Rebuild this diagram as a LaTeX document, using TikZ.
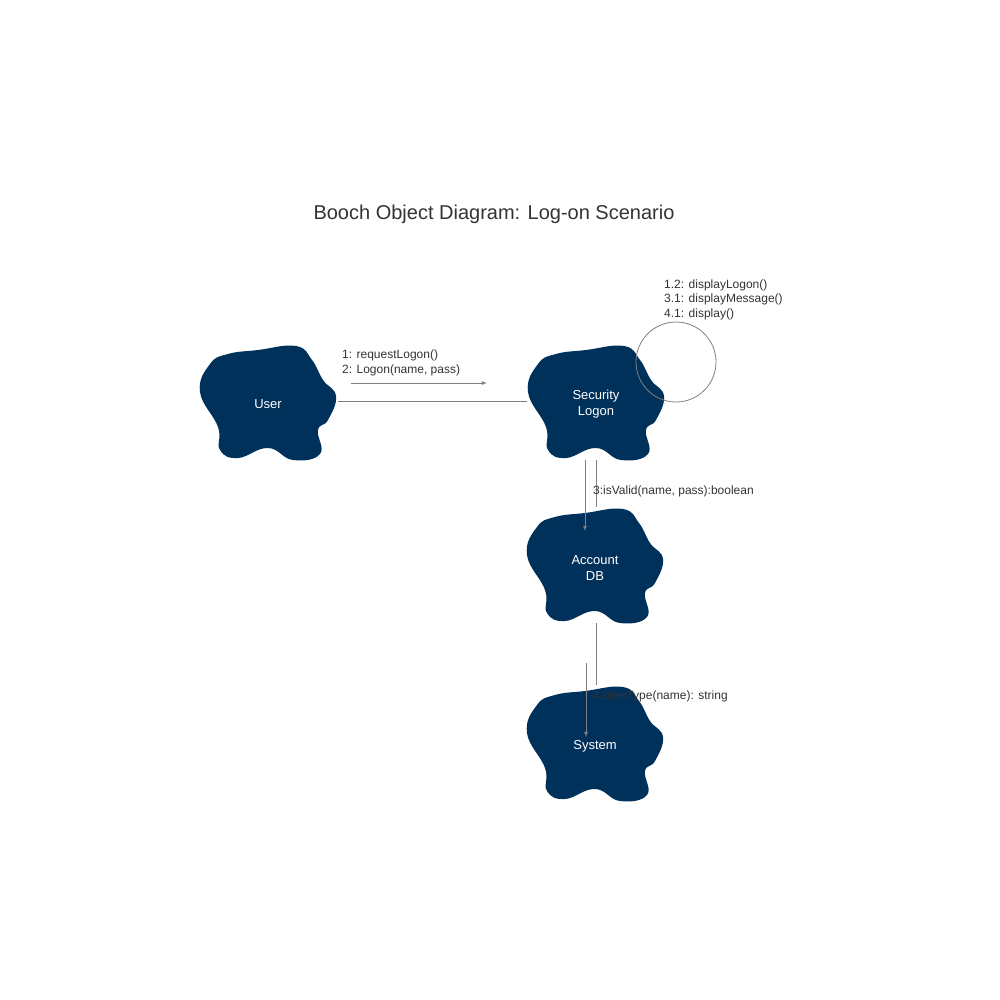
\documentclass[tikz,border=0pt]{standalone}
\usepackage{fontspec}
\setmainfont{Liberation Sans}
\begin{document}
\begin{tikzpicture}[x=1pt,y=-1pt,
  lbl/.style={text=black!80,font=\fontsize{12}{14.5}\selectfont,align=left,inner sep=0pt},
  cloudtxt/.style={text=white,font=\fontsize{13}{16}\selectfont,align=center,minimum width=140pt,minimum height=115pt},
  conn/.style={draw=black!50,line width=0.8pt},
  msg/.style={draw=black!50,line width=0.8pt,-latex}]
\useasboundingbox (0,0) rectangle (1000,1000);
\definecolor{cl}{RGB}{0,49,90}
\newcommand{\cloudat}[2]{\fill[cl,shift={(#1,#2)}] plot[smooth cycle,tension=0.75] coordinates{
 (-40,-48) (-10,-52) (28,-56) (44,-42) (55,-22) (68,-6) (60,18) (50,28) (52,52) (25,58) (0,46) (-30,56) (-48,48) (-50,25) (-68,-10) (-58,-38)};}
\cloudat{596}{402}\cloudat{268}{402}\cloudat{595}{565}\cloudat{595}{743}
\node[cloudtxt] (user) at (268,404) {User};
\node[cloudtxt] (sec) at (596,404) {Security\\Logon};
\node[cloudtxt] (acc) at (595,568) {Account\\DB};
\node[cloudtxt] (sys) at (595,746) {System};
\node[text=black!80,font=\fontsize{20}{24}\selectfont] (title) at (494,214) {Booch Object Diagram: Log-on Scenario};
% links
\coordinate (u1) at (338,401); \coordinate (s1) at (527,401);
\draw[conn] (u1) -- (s1);
\coordinate (m1a) at (351,383); \coordinate (m1b) at (487,383);
\draw[msg] (m1a) -- (m1b);
\node[lbl,anchor=south west] (l1) at (342,376) {1: requestLogon()\\2: Logon(name, pass)};
\coordinate (s2) at (596,460); \coordinate (a2) at (596,507);
\draw[conn] (s2) -- (a2);
\coordinate (m2a) at (585,460); \coordinate (m2b) at (585,531);
\draw[msg] (m2a) -- (m2b);
\node[lbl,anchor=west] (l2) at (593,491) {3:isValid(name, pass):boolean};
\coordinate (a3) at (596,623); \coordinate (y3) at (596,685);
\draw[conn] (a3) -- (y3);
\coordinate (m3a) at (586,663); \coordinate (m3b) at (586,737);
\draw[msg] (m3a) -- (m3b);
\node[lbl,anchor=west] (l3) at (593,696) {4:userType(name): string};
% self loop
\draw[conn] (676,362) circle (40);
\node[lbl,anchor=south west] (l4) at (664,320) {1.2: displayLogon()\\3.1: displayMessage()\\4.1: display()};
\end{tikzpicture}
\end{document}
